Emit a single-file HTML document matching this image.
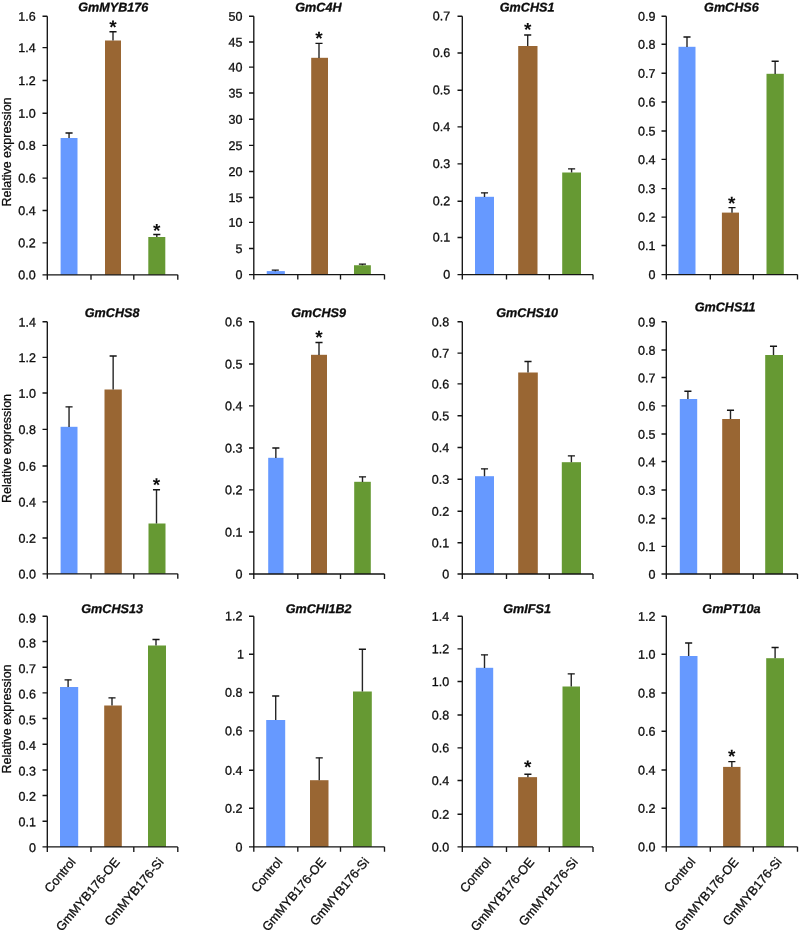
<!DOCTYPE html>
<html><head><meta charset="utf-8"><title>Relative expression</title>
<style>
html,body{margin:0;padding:0;background:#fff;}
body{width:800px;height:932px;overflow:hidden;font-family:"Liberation Sans",sans-serif;}
svg{display:block;will-change:transform;}
svg text{font-family:"Liberation Sans",sans-serif;fill:#0d0d0d;stroke:#0d0d0d;stroke-width:0.3px;}
.tk{font-size:12.5px;text-anchor:end;}
.tt{font-size:12.6px;font-weight:bold;font-style:italic;text-anchor:middle;}
.yl{font-size:12.5px;text-anchor:middle;}
.xl{font-size:12.6px;text-anchor:end;}
.st{font-size:19px;font-weight:bold;text-anchor:middle;stroke:none;}
.ln{stroke:#151515;stroke-width:1.35;fill:none;}
.es{stroke:#262626;stroke-width:1.4;fill:none;}
</style></head>
<body>
<svg width="800" height="932" viewBox="0 0 800 932">
<rect x="0" y="0" width="800" height="932" fill="#ffffff"/>
<g><!-- GmMYB176 -->
<rect x="60.6" y="138" width="16.9" height="136.8" fill="#6699ff"/>
<rect x="105" y="40.5" width="16" height="234.3" fill="#996633"/>
<rect x="148.3" y="237" width="17" height="37.8" fill="#669933"/>
<path class="es" d="M69.05 138.1V133M113 40.6V31.7M156.8 237.1V234.5"/>
<path class="ln" d="M65.5 133H72.6M109.45 31.7H116.55M153.25 234.5H160.35"/>
<path class="ln" d="M47.3 16.2V279.8M42.5 274.8H177.8M42.5 16.2H47.3M42.5 47.6H47.3M42.5 80.5H47.3M42.5 113.2H47.3M42.5 145.3H47.3M42.5 178.1H47.3M42.5 210.5H47.3M42.5 242.8H47.3M91 274.8V279.8M133.8 274.8V279.8M177.8 274.8V279.8"/>
<text class="tk" transform="translate(35.6 20.7) rotate(0.05)">1.6</text>
<text class="tk" transform="translate(35.6 52.1) rotate(0.05)">1.4</text>
<text class="tk" transform="translate(35.6 85) rotate(0.05)">1.2</text>
<text class="tk" transform="translate(35.6 117.7) rotate(0.05)">1.0</text>
<text class="tk" transform="translate(35.6 149.8) rotate(0.05)">0.8</text>
<text class="tk" transform="translate(35.6 182.6) rotate(0.05)">0.6</text>
<text class="tk" transform="translate(35.6 215) rotate(0.05)">0.4</text>
<text class="tk" transform="translate(35.6 247.3) rotate(0.05)">0.2</text>
<text class="tk" transform="translate(35.6 279.3) rotate(0.05)">0.0</text>
<text class="tt" transform="translate(113.3 11.4) rotate(0.05)">GmMYB176</text>
<text class="st" transform="translate(113 33.45) rotate(0.05)">*</text>
<text class="st" transform="translate(156.7 236.95) rotate(0.05)">*</text>
<text class="yl" transform="translate(10.8 152) rotate(-90)">Relative expression</text>
</g>
<g><!-- GmC4H -->
<rect x="266.75" y="271.1" width="18.1" height="3.5" fill="#6699ff"/>
<rect x="311.2" y="57.8" width="16.8" height="216.8" fill="#996633"/>
<rect x="354" y="265.25" width="16.85" height="9.35" fill="#669933"/>
<path class="es" d="M275.3 271.2V270.1M319 57.9V43.3M362.43 265.35V264.1"/>
<path class="ln" d="M271.75 270.1H278.85M315.45 43.3H322.55M358.88 264.1H365.98"/>
<path class="ln" d="M253.8 16.2V279.6M249 274.6H384.5M249 16.2H253.8M249 42H253.8M249 67.1H253.8M249 93H253.8M249 119.2H253.8M249 145.4H253.8M249 171.5H253.8M249 197.5H253.8M249 222.3H253.8M249 248.5H253.8M297.8 274.6V279.6M340.5 274.6V279.6M384.5 274.6V279.6"/>
<text class="tk" transform="translate(242.4 20.7) rotate(0.05)">50</text>
<text class="tk" transform="translate(242.4 46.5) rotate(0.05)">45</text>
<text class="tk" transform="translate(242.4 71.6) rotate(0.05)">40</text>
<text class="tk" transform="translate(242.4 97.5) rotate(0.05)">35</text>
<text class="tk" transform="translate(242.4 123.7) rotate(0.05)">30</text>
<text class="tk" transform="translate(242.4 149.9) rotate(0.05)">25</text>
<text class="tk" transform="translate(242.4 176) rotate(0.05)">20</text>
<text class="tk" transform="translate(242.4 202) rotate(0.05)">15</text>
<text class="tk" transform="translate(242.4 226.8) rotate(0.05)">10</text>
<text class="tk" transform="translate(242.4 253) rotate(0.05)">5</text>
<text class="tk" transform="translate(242.4 279.1) rotate(0.05)">0</text>
<text class="tt" transform="translate(318.4 11.4) rotate(0.05)">GmC4H</text>
<text class="st" transform="translate(319 44.65) rotate(0.05)">*</text>
</g>
<g><!-- GmCHS1 -->
<rect x="475" y="196.8" width="19" height="77.8" fill="#6699ff"/>
<rect x="518.2" y="46" width="19.3" height="228.6" fill="#996633"/>
<rect x="562.2" y="172.5" width="18.8" height="102.1" fill="#669933"/>
<path class="es" d="M484.5 196.9V192.8M527.7 46.1V35M571.6 172.6V168.8"/>
<path class="ln" d="M480.95 192.8H488.05M524.15 35H531.25M568.05 168.8H575.15"/>
<path class="ln" d="M462.3 16.2V279.6M457.5 274.6H593M457.5 16.2H462.3M457.5 53H462.3M457.5 90.2H462.3M457.5 126.8H462.3M457.5 163.9H462.3M457.5 201.2H462.3M457.5 237.5H462.3M506.5 274.6V279.6M549.3 274.6V279.6M593 274.6V279.6"/>
<text class="tk" transform="translate(450.1 20.3) rotate(0.05)">0.7</text>
<text class="tk" transform="translate(450.1 57.1) rotate(0.05)">0.6</text>
<text class="tk" transform="translate(450.1 94.3) rotate(0.05)">0.5</text>
<text class="tk" transform="translate(450.1 130.9) rotate(0.05)">0.4</text>
<text class="tk" transform="translate(450.1 168) rotate(0.05)">0.3</text>
<text class="tk" transform="translate(450.1 205.3) rotate(0.05)">0.2</text>
<text class="tk" transform="translate(450.1 241.6) rotate(0.05)">0.1</text>
<text class="tk" transform="translate(450.1 278.7) rotate(0.05)">0</text>
<text class="tt" transform="translate(527.1 11.4) rotate(0.05)">GmCHS1</text>
<text class="st" transform="translate(527.7 35.95) rotate(0.05)">*</text>
</g>
<g><!-- GmCHS6 -->
<rect x="678.5" y="46.8" width="17" height="227.8" fill="#6699ff"/>
<rect x="721.9" y="212.6" width="17.1" height="62" fill="#996633"/>
<rect x="766.5" y="73.8" width="17.3" height="200.8" fill="#669933"/>
<path class="es" d="M687 46.9V37M732 212.7V207.55M775.15 73.9V61.2"/>
<path class="ln" d="M683.45 37H690.55M728.45 207.55H735.55M771.6 61.2H778.7"/>
<path class="ln" d="M666.3 16.2V279.6M661.5 274.6H797.5M661.5 16.2H666.3M661.5 44.2H666.3M661.5 73.2H666.3M661.5 102H666.3M661.5 131H666.3M661.5 159.4H666.3M661.5 188.6H666.3M661.5 217.1H666.3M661.5 245.5H666.3M710.3 274.6V279.6M753.3 274.6V279.6M797.5 274.6V279.6"/>
<text class="tk" transform="translate(655.4 20.7) rotate(0.05)">0.9</text>
<text class="tk" transform="translate(655.4 48.7) rotate(0.05)">0.8</text>
<text class="tk" transform="translate(655.4 77.7) rotate(0.05)">0.7</text>
<text class="tk" transform="translate(655.4 106.5) rotate(0.05)">0.6</text>
<text class="tk" transform="translate(655.4 135.5) rotate(0.05)">0.5</text>
<text class="tk" transform="translate(655.4 163.9) rotate(0.05)">0.4</text>
<text class="tk" transform="translate(655.4 193.1) rotate(0.05)">0.3</text>
<text class="tk" transform="translate(655.4 221.6) rotate(0.05)">0.2</text>
<text class="tk" transform="translate(655.4 250) rotate(0.05)">0.1</text>
<text class="tk" transform="translate(655.4 279.1) rotate(0.05)">0</text>
<text class="tt" transform="translate(731.4 11.4) rotate(0.05)">GmCHS6</text>
<text class="st" transform="translate(731.7 209.85) rotate(0.05)">*</text>
</g>
<g><!-- GmCHS8 -->
<rect x="60.6" y="426.8" width="16.9" height="147" fill="#6699ff"/>
<rect x="104.5" y="389.5" width="17.3" height="184.3" fill="#996633"/>
<rect x="148.5" y="523.5" width="17" height="50.3" fill="#669933"/>
<path class="es" d="M69.05 426.9V406.8M113.15 389.6V356M156.5 523.6V489.7"/>
<path class="ln" d="M65.5 406.8H72.6M109.6 356H116.7M152.95 489.7H160.05"/>
<path class="ln" d="M47.3 321.7V578.8M42.5 573.8H177.8M42.5 321.7H47.3M42.5 357.3H47.3M42.5 393H47.3M42.5 429.3H47.3M42.5 466H47.3M42.5 501.8H47.3M42.5 538H47.3M91 573.8V578.8M133.8 573.8V578.8M177.8 573.8V578.8"/>
<text class="tk" transform="translate(35.9 326.4) rotate(0.05)">1.4</text>
<text class="tk" transform="translate(35.9 362) rotate(0.05)">1.2</text>
<text class="tk" transform="translate(35.9 397.7) rotate(0.05)">1.0</text>
<text class="tk" transform="translate(35.9 434) rotate(0.05)">0.8</text>
<text class="tk" transform="translate(35.9 470.7) rotate(0.05)">0.6</text>
<text class="tk" transform="translate(35.9 506.5) rotate(0.05)">0.4</text>
<text class="tk" transform="translate(35.9 542.7) rotate(0.05)">0.2</text>
<text class="tk" transform="translate(35.9 578.5) rotate(0.05)">0.0</text>
<text class="tt" transform="translate(112.1 317) rotate(0.05)">GmCHS8</text>
<text class="st" transform="translate(156.55 491.15) rotate(0.05)">*</text>
<text class="yl" transform="translate(10.8 448.5) rotate(-90)">Relative expression</text>
</g>
<g><!-- GmCHS9 -->
<rect x="268.2" y="457.8" width="15.3" height="116.2" fill="#6699ff"/>
<rect x="311" y="354.8" width="16" height="219.2" fill="#996633"/>
<rect x="354.2" y="481.8" width="16.6" height="92.2" fill="#669933"/>
<path class="es" d="M275.85 457.9V448M319 354.9V342.5M362.5 481.9V476.8"/>
<path class="ln" d="M272.3 448H279.4M315.45 342.5H322.55M358.95 476.8H366.05"/>
<path class="ln" d="M253.8 321.7V579M249 574H384.5M249 321.7H253.8M249 364H253.8M249 405.8H253.8M249 448H253.8M249 489.8H253.8M249 532H253.8M297.8 574V579M340.5 574V579M384.5 574V579"/>
<text class="tk" transform="translate(242.4 326.2) rotate(0.05)">0.6</text>
<text class="tk" transform="translate(242.4 368.5) rotate(0.05)">0.5</text>
<text class="tk" transform="translate(242.4 410.3) rotate(0.05)">0.4</text>
<text class="tk" transform="translate(242.4 452.5) rotate(0.05)">0.3</text>
<text class="tk" transform="translate(242.4 494.3) rotate(0.05)">0.2</text>
<text class="tk" transform="translate(242.4 536.5) rotate(0.05)">0.1</text>
<text class="tk" transform="translate(242.4 578.5) rotate(0.05)">0</text>
<text class="tt" transform="translate(318.6 317) rotate(0.05)">GmCHS9</text>
<text class="st" transform="translate(319 343.85) rotate(0.05)">*</text>
</g>
<g><!-- GmCHS10 -->
<rect x="475" y="476.2" width="19" height="97.8" fill="#6699ff"/>
<rect x="518.2" y="372.5" width="19.6" height="201.5" fill="#996633"/>
<rect x="561.8" y="462.2" width="19.2" height="111.8" fill="#669933"/>
<path class="es" d="M484.5 476.3V468.8M528 372.6V361.5M571.4 462.3V455.8"/>
<path class="ln" d="M480.95 468.8H488.05M524.45 361.5H531.55M567.85 455.8H574.95"/>
<path class="ln" d="M462.3 321.7V579M457.5 574H593M457.5 321.7H462.3M457.5 353.1H462.3M457.5 383.9H462.3M457.5 415.7H462.3M457.5 447.5H462.3M457.5 479.2H462.3M457.5 511.2H462.3M457.5 542.7H462.3M506.5 574V579M549.3 574V579M593 574V579"/>
<text class="tk" transform="translate(449.2 326.2) rotate(0.05)">0.8</text>
<text class="tk" transform="translate(449.2 357.6) rotate(0.05)">0.7</text>
<text class="tk" transform="translate(449.2 388.4) rotate(0.05)">0.6</text>
<text class="tk" transform="translate(449.2 420.2) rotate(0.05)">0.5</text>
<text class="tk" transform="translate(449.2 452) rotate(0.05)">0.4</text>
<text class="tk" transform="translate(449.2 483.7) rotate(0.05)">0.3</text>
<text class="tk" transform="translate(449.2 515.7) rotate(0.05)">0.2</text>
<text class="tk" transform="translate(449.2 547.2) rotate(0.05)">0.1</text>
<text class="tk" transform="translate(449.2 578.5) rotate(0.05)">0</text>
<text class="tt" transform="translate(527.1 317) rotate(0.05)">GmCHS10</text>
</g>
<g><!-- GmCHS11 -->
<rect x="679.8" y="399" width="17.4" height="175" fill="#6699ff"/>
<rect x="722.2" y="419" width="17.8" height="155" fill="#996633"/>
<rect x="765.2" y="355" width="17.8" height="219" fill="#669933"/>
<path class="es" d="M687.9 399.1V391.2M730.5 419.1V410.2M773.5 355.1V346.2"/>
<path class="ln" d="M684.35 391.2H691.45M726.95 410.2H734.05M769.95 346.2H777.05"/>
<path class="ln" d="M666.3 321.7V579M661.5 574H797.5M661.5 321.7H666.3M661.5 350H666.3M661.5 377.5H666.3M661.5 405.8H666.3M661.5 434H666.3M661.5 461.5H666.3M661.5 490H666.3M661.5 518.5H666.3M661.5 546.3H666.3M710.3 574V579M753.3 574V579M797.5 574V579"/>
<text class="tk" transform="translate(655.4 326.5) rotate(0.05)">0.9</text>
<text class="tk" transform="translate(655.4 354.8) rotate(0.05)">0.8</text>
<text class="tk" transform="translate(655.4 382.3) rotate(0.05)">0.7</text>
<text class="tk" transform="translate(655.4 410.6) rotate(0.05)">0.6</text>
<text class="tk" transform="translate(655.4 438.8) rotate(0.05)">0.5</text>
<text class="tk" transform="translate(655.4 466.3) rotate(0.05)">0.4</text>
<text class="tk" transform="translate(655.4 494.8) rotate(0.05)">0.3</text>
<text class="tk" transform="translate(655.4 523.3) rotate(0.05)">0.2</text>
<text class="tk" transform="translate(655.4 551.1) rotate(0.05)">0.1</text>
<text class="tk" transform="translate(655.4 578.8) rotate(0.05)">0</text>
<text class="tt" transform="translate(725.1 311.3) rotate(0.05)">GmCHS11</text>
</g>
<g><!-- GmCHS13 -->
<rect x="60" y="687" width="18.2" height="159.9" fill="#6699ff"/>
<rect x="104.2" y="705.5" width="17.6" height="141.4" fill="#996633"/>
<rect x="148" y="645.5" width="18" height="201.4" fill="#669933"/>
<path class="es" d="M68.1 687.1V679.8M112 705.6V697.8M156 645.6V639.5"/>
<path class="ln" d="M64.55 679.8H71.65M108.45 697.8H115.55M152.45 639.5H159.55"/>
<path class="ln" d="M47.3 616.2V851.9M42.5 846.9H177.8M42.5 616.2H47.3M42.5 641.5H47.3M42.5 667.2H47.3M42.5 692.8H47.3M42.5 718.5H47.3M42.5 744.2H47.3M42.5 770H47.3M42.5 795.5H47.3M42.5 821.2H47.3M91 846.9V851.9M133.8 846.9V851.9M177.8 846.9V851.9"/>
<text class="tk" transform="translate(35.9 622.4) rotate(0.05)">0.9</text>
<text class="tk" transform="translate(35.9 647.57) rotate(0.05)">0.8</text>
<text class="tk" transform="translate(35.9 673.13) rotate(0.05)">0.7</text>
<text class="tk" transform="translate(35.9 698.6) rotate(0.05)">0.6</text>
<text class="tk" transform="translate(35.9 724.17) rotate(0.05)">0.5</text>
<text class="tk" transform="translate(35.9 749.73) rotate(0.05)">0.4</text>
<text class="tk" transform="translate(35.9 775.4) rotate(0.05)">0.3</text>
<text class="tk" transform="translate(35.9 800.77) rotate(0.05)">0.2</text>
<text class="tk" transform="translate(35.9 826.33) rotate(0.05)">0.1</text>
<text class="tk" transform="translate(35.9 851.9) rotate(0.05)">0</text>
<text class="tt" transform="translate(112.1 613) rotate(0.05)">GmCHS13</text>
<text class="yl" transform="translate(10.8 719) rotate(-90)">Relative expression</text>
<text class="xl" transform="translate(76.4 862.3) rotate(-50)">Control</text>
<text class="xl" transform="translate(120.3 862.3) rotate(-50)">GmMYB176-OE</text>
<text class="xl" transform="translate(164.3 862.3) rotate(-50)">GmMYB176-Si</text>
</g>
<g><!-- GmCHI1B2 -->
<rect x="266.2" y="720" width="19" height="126.8" fill="#6699ff"/>
<rect x="310" y="780.2" width="18.5" height="66.6" fill="#996633"/>
<rect x="353" y="691.5" width="18.8" height="155.3" fill="#669933"/>
<path class="es" d="M275.7 720.1V696M319.25 780.3V757.8M362.4 691.6V649.2"/>
<path class="ln" d="M272.15 696H279.25M315.7 757.8H322.8M358.85 649.2H365.95"/>
<path class="ln" d="M253.8 616.2V851.8M249 846.8H384.5M249 616.2H253.8M249 654.2H253.8M249 692.5H253.8M249 730.8H253.8M249 770.2H253.8M249 808.2H253.8M297.8 846.8V851.8M340.5 846.8V851.8M384.5 846.8V851.8"/>
<text class="tk" transform="translate(242.4 620.3) rotate(0.05)">1.2</text>
<text class="tk" transform="translate(243.9 658.42) rotate(0.05)">1</text>
<text class="tk" transform="translate(242.4 696.83) rotate(0.05)">0.8</text>
<text class="tk" transform="translate(242.4 735.25) rotate(0.05)">0.6</text>
<text class="tk" transform="translate(242.4 774.77) rotate(0.05)">0.4</text>
<text class="tk" transform="translate(242.4 812.88) rotate(0.05)">0.2</text>
<text class="tk" transform="translate(242.4 851.6) rotate(0.05)">0</text>
<text class="tt" transform="translate(318.6 613) rotate(0.05)">GmCHI1B2</text>
<text class="xl" transform="translate(283 862.2) rotate(-50)">Control</text>
<text class="xl" transform="translate(326.55 862.2) rotate(-50)">GmMYB176-OE</text>
<text class="xl" transform="translate(369.7 862.2) rotate(-50)">GmMYB176-Si</text>
</g>
<g><!-- GmIFS1 -->
<rect x="475.8" y="667.8" width="17.4" height="179.1" fill="#6699ff"/>
<rect x="518.15" y="777.15" width="18.9" height="69.75" fill="#996633"/>
<rect x="562.5" y="686.5" width="17.5" height="160.4" fill="#669933"/>
<path class="es" d="M484.5 667.9V654.8M527.9 777.25V774.25M571.25 686.6V673.8"/>
<path class="ln" d="M480.95 654.8H488.05M524.35 774.25H531.45M567.7 673.8H574.8"/>
<path class="ln" d="M462.3 616.2V851.9M457.5 846.9H593M457.5 616.2H462.3M457.5 648.8H462.3M457.5 681.5H462.3M457.5 715H462.3M457.5 747.8H462.3M457.5 780.5H462.3M457.5 814.2H462.3M506.5 846.9V851.9M549.3 846.9V851.9M593 846.9V851.9"/>
<text class="tk" transform="translate(449.2 620.7) rotate(0.05)">1.4</text>
<text class="tk" transform="translate(449.2 653.3) rotate(0.05)">1.2</text>
<text class="tk" transform="translate(449.2 686) rotate(0.05)">1.0</text>
<text class="tk" transform="translate(449.2 719.5) rotate(0.05)">0.8</text>
<text class="tk" transform="translate(449.2 752.3) rotate(0.05)">0.6</text>
<text class="tk" transform="translate(449.2 785) rotate(0.05)">0.4</text>
<text class="tk" transform="translate(449.2 818.7) rotate(0.05)">0.2</text>
<text class="tk" transform="translate(449.2 851.4) rotate(0.05)">0.0</text>
<text class="tt" transform="translate(527.1 613) rotate(0.05)">GmIFS1</text>
<text class="st" transform="translate(527.7 773.55) rotate(0.05)">*</text>
<text class="xl" transform="translate(491.8 862.3) rotate(-50)">Control</text>
<text class="xl" transform="translate(534.9 862.3) rotate(-50)">GmMYB176-OE</text>
<text class="xl" transform="translate(578.55 862.3) rotate(-50)">GmMYB176-Si</text>
</g>
<g><!-- GmPT10a -->
<rect x="679.8" y="656" width="17.7" height="190.8" fill="#6699ff"/>
<rect x="723.1" y="766.9" width="17.4" height="79.9" fill="#996633"/>
<rect x="766.2" y="658.2" width="17.8" height="188.6" fill="#669933"/>
<path class="es" d="M688.65 656.1V643M731.85 767V761.6M775.1 658.3V647.5"/>
<path class="ln" d="M685.1 643H692.2M728.3 761.6H735.4M771.55 647.5H778.65"/>
<path class="ln" d="M666.3 616.2V851.8M661.5 846.8H797.5M661.5 616.2H666.3M661.5 654.2H666.3M661.5 693H666.3M661.5 731.2H666.3M661.5 770H666.3M661.5 808.2H666.3M710.3 846.8V851.8M753.3 846.8V851.8M797.5 846.8V851.8"/>
<text class="tk" transform="translate(655.4 620.7) rotate(0.05)">1.2</text>
<text class="tk" transform="translate(655.4 658.7) rotate(0.05)">1.0</text>
<text class="tk" transform="translate(655.4 697.5) rotate(0.05)">0.8</text>
<text class="tk" transform="translate(655.4 735.7) rotate(0.05)">0.6</text>
<text class="tk" transform="translate(655.4 774.5) rotate(0.05)">0.4</text>
<text class="tk" transform="translate(655.4 812.7) rotate(0.05)">0.2</text>
<text class="tk" transform="translate(655.4 851.3) rotate(0.05)">0.0</text>
<text class="tt" transform="translate(731.4 613) rotate(0.05)">GmPT10a</text>
<text class="st" transform="translate(731.6 762.8) rotate(0.05)">*</text>
<text class="xl" transform="translate(695.95 862.2) rotate(-50)">Control</text>
<text class="xl" transform="translate(739.1 862.2) rotate(-50)">GmMYB176-OE</text>
<text class="xl" transform="translate(782.4 862.2) rotate(-50)">GmMYB176-Si</text>
</g>
</svg>
</body></html>
